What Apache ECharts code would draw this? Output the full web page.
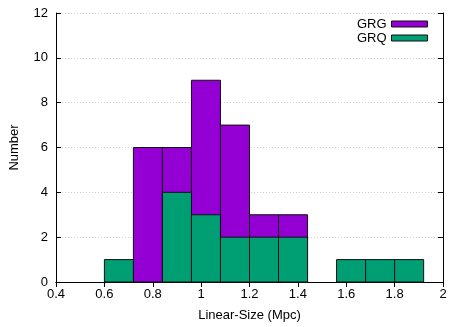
<!DOCTYPE html>
<html>
<head>
<meta charset="utf-8">
<script src="https://cdn.jsdelivr.net/npm/echarts@6/dist/echarts.min.js"></script>
<style>
  html, body { margin: 0; padding: 0; background: #fff; }
  #chart { width: 467px; height: 327px; }
</style>
</head>
<body>
<div id="chart"></div>
<script>
  // histogram bins (left edges, Mpc) and counts
  var binWidth = 0.12;
  var binStarts = [0.6, 0.72, 0.84, 0.96, 1.08, 1.2, 1.32, 1.44, 1.56, 1.68, 1.8];
  var grgCounts = [0, 6, 6, 9, 7, 3, 3, 0, 0, 0, 0];
  var grqCounts = [1, 0, 4, 3, 2, 2, 2, 0, 1, 1, 1];
  var xTicks = [0.4, 0.6, 0.8, 1, 1.2, 1.4, 1.6, 1.8, 2];
  var yTicks = [0, 2, 4, 6, 8, 10, 12];

  var font = 'Liberation Sans, Arial, sans-serif';

  function histData(counts) {
    var out = [];
    for (var i = 0; i < binStarts.length; i++) {
      if (counts[i] > 0) out.push([binStarts[i], binStarts[i] + binWidth, counts[i]]);
    }
    return out;
  }

  function renderBin(params, api) {
    var p0 = api.coord([api.value(0), api.value(2)]);
    var p1 = api.coord([api.value(1), 0]);
    return {
      type: 'rect',
      shape: { x: p0[0], y: p0[1], width: p1[0] - p0[0], height: p1[1] - p0[1] },
      style: { fill: api.visual('color'), stroke: '#111', lineWidth: 1 }
    };
  }

  var chart = echarts.init(document.getElementById('chart'));
  chart.setOption({
    animation: false,
    grid: { left: 56, right: 24, top: 13, bottom: 43 },
    legend: {
      orient: 'vertical',
      right: 34,
      top: 12,
      align: 'right',
      itemWidth: 36,
      itemHeight: 6,
      itemGap: 0,
      textStyle: { fontFamily: font, fontSize: 13, lineHeight: 14, color: '#000' },
      data: [
        { name: 'GRG', icon: 'rect', itemStyle: { borderColor: '#111', borderWidth: 1 } },
        { name: 'GRQ', icon: 'rect', itemStyle: { borderColor: '#111', borderWidth: 1 } }
      ]
    },
    xAxis: [{
      type: 'value',
      min: xTicks[0],
      max: xTicks[xTicks.length - 1],
      interval: 0.2,
      name: 'Linear-Size (Mpc)',
      nameLocation: 'middle',
      nameGap: 27,
      nameTextStyle: { fontFamily: font, fontSize: 13, color: '#000' },
      axisLine: { show: true, onZero: false, lineStyle: { color: '#000', width: 1 } },
      axisTick: { show: true, inside: true, length: 5, lineStyle: { color: '#000' } },
      axisLabel: { fontFamily: font, fontSize: 13, color: '#000', margin: 6,
        formatter: function (v) { return String(Math.round(v * 10) / 10); } },
      splitLine: { show: false }
    }, {
      type: 'value',
      position: 'top',
      min: xTicks[0],
      max: xTicks[xTicks.length - 1],
      interval: 0.2,
      axisLine: { show: true, lineStyle: { color: '#000', width: 1 } },
      axisTick: { show: true, inside: true, length: 5, lineStyle: { color: '#000' } },
      axisLabel: { show: false },
      splitLine: { show: false }
    }],
    yAxis: [{
      type: 'value',
      min: yTicks[0],
      max: yTicks[yTicks.length - 1],
      interval: 2,
      name: 'Number',
      nameLocation: 'middle',
      nameGap: 35,
      nameTextStyle: { fontFamily: font, fontSize: 13, color: '#000' },
      axisLine: { show: true, lineStyle: { color: '#000', width: 1 } },
      axisTick: { show: true, inside: true, length: 5, lineStyle: { color: '#000' } },
      axisLabel: { fontFamily: font, fontSize: 13, color: '#000', margin: 8 },
      splitLine: { show: true, lineStyle: { color: '#d0d0d0', type: [1, 2], width: 1 } }
    }, {
      type: 'value',
      position: 'right',
      min: yTicks[0],
      max: yTicks[yTicks.length - 1],
      interval: 2,
      axisLine: { show: true, lineStyle: { color: '#000', width: 1 } },
      axisTick: { show: true, inside: true, length: 5, lineStyle: { color: '#000' } },
      axisLabel: { show: false },
      splitLine: { show: false }
    }],
    series: [
      {
        name: 'GRG',
        type: 'custom',
        renderItem: renderBin,
        itemStyle: { color: '#9400d3' },
        encode: { x: [0, 1], y: 2 },
        data: histData(grgCounts),
        z: 2
      },
      {
        name: 'GRQ',
        type: 'custom',
        renderItem: renderBin,
        itemStyle: { color: '#009e73' },
        encode: { x: [0, 1], y: 2 },
        data: histData(grqCounts),
        z: 3
      }
    ]
  });
</script>
</body>
</html>
